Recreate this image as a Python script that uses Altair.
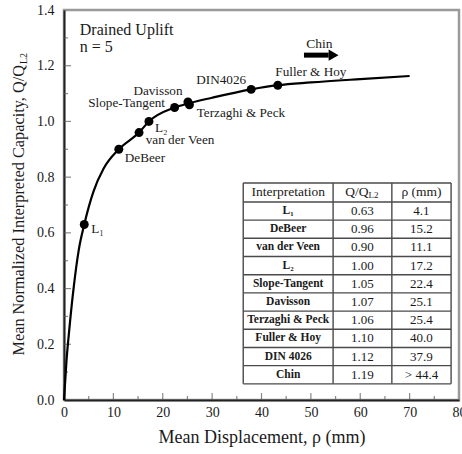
import altair as alt
import pandas as pd

FONT = "Liberation Serif"
INK = "#1a1a1a"

# ---- data ----
curve_x = [0, 0.5, 1, 2, 3, 4.1, 6, 8, 11.1, 15.2, 17.2, 22.4, 25.3, 30, 37.9, 43.3, 50, 60, 70]
curve_y = [0, 0.14, 0.24, 0.41, 0.54, 0.63, 0.75, 0.83, 0.90, 0.96, 1.00, 1.05, 1.065, 1.085, 1.115, 1.13, 1.14, 1.152, 1.163]

pt_names = ["L₁", "DeBeer", "van der Veen", "L₂", "Slope-Tangent", "Davisson",
            "Terzaghi & Peck", "DIN4026", "Fuller & Hoy"]
pt_x = [4.1, 11.1, 15.2, 17.2, 22.4, 25.1, 25.4, 37.9, 43.3]
pt_y = [0.63, 0.90, 0.96, 1.00, 1.05, 1.07, 1.06, 1.115, 1.13]

tbl_names = ["L₁", "DeBeer", "van der Veen", "L₂", "Slope-Tangent", "Davisson",
             "Terzaghi & Peck", "Fuller & Hoy", "DIN 4026", "Chin"]
tbl_q = ["0.63", "0.96", "0.90", "1.00", "1.05", "1.07", "1.06", "1.10", "1.12", "1.19"]
tbl_rho = ["4.1", "15.2", "11.1", "17.2", "22.4", "25.1", "25.4", "40.0", "37.9", "> 44.4"]

x_ticks_major = [10, 20, 30, 40, 50, 60, 70]
x_ticks_minor = [5, 15, 25, 35, 45, 55, 65, 75]
y_ticks_major = [0.2, 0.4, 0.6, 0.8, 1.0, 1.2]
y_ticks_minor = [0.1, 0.3, 0.5, 0.7, 0.9, 1.1, 1.3]

# ---- layout (styling / placement only) ----
W, H = 395, 390
label_style = {  # align, dx, dy in pixels relative to the point
    "L₁": ("left", 7, 4.5),
    "DeBeer": ("left", 6, 9),
    "van der Veen": ("left", 6.7, 7.4),
    "L₂": ("left", 6, 6.6),
    "Slope-Tangent": ("right", -9.6, -4.2),
    "Davisson": ("center", -30, -11.2),
    "Terzaghi & Peck": ("left", 7.3, 8),
    "DIN4026": ("right", -5, -9.4),
    "Fuller & Hoy": ("left", -2.5, -13.5),
}
TBL_COLS = [36.3, 54.5, 66.4, 78.4]   # column edges, in x data units
TBL_TOP, HDR_H, ROW_H = 0.779, 0.068, 0.0653  # in y data units

xscale = alt.Scale(domain=[0, 80], nice=False, zero=False)
yscale = alt.Scale(domain=[0, 1.4], nice=False, zero=False)
xaxis = alt.Axis(values=list(range(0, 81, 10)), format="d", title="Mean Displacement, ρ (mm)",
                 ticks=False, tickSize=0, labelPadding=5, titlePadding=9, labelFlush=False,
                 labelOverlap=False, grid=False)
yaxis = alt.Axis(values=[0, 0.2, 0.4, 0.6, 0.8, 1.0, 1.2, 1.4], format=".1f", title=None,
                 ticks=False, tickSize=0, labelPadding=10, labelFlush=False,
                 labelOverlap=False, grid=False)


def X(f):
    return alt.X(f, type="quantitative", scale=xscale, axis=xaxis)


def Y(f):
    return alt.Y(f, type="quantitative", scale=yscale, axis=yaxis)


curve_df = pd.DataFrame({"x": curve_x, "y": curve_y})
pts_df = pd.DataFrame({"name": pt_names, "x": pt_x, "y": pt_y})

curve = alt.Chart(curve_df).mark_line(color="black", strokeWidth=2.2, interpolate="monotone").encode(
    x=X("x"), y=Y("y"))
points = alt.Chart(pts_df).mark_circle(color="black", size=80, opacity=1).encode(x=X("x"), y=Y("y"))

labels = []
for n in pt_names:
    a, dx, dy = label_style[n]
    labels.append(
        alt.Chart(pts_df[pts_df["name"] == n]).mark_text(
            align=a, baseline="middle", dx=dx, dy=dy, font=FONT, fontSize=13.2, color=INK
        ).encode(x=X("x"), y=Y("y"), text="name:N"))

# inward ticks
xt_major = alt.Chart(pd.DataFrame({"v": x_ticks_major})).mark_tick(
    orient="vertical", size=7, thickness=1.2, color="#555").encode(x=X("v"), y=alt.value(H - 3.5))
xt_minor = alt.Chart(pd.DataFrame({"v": x_ticks_minor})).mark_tick(
    orient="vertical", size=4, thickness=1.2, color="#555").encode(x=X("v"), y=alt.value(H - 2))
yt_major = alt.Chart(pd.DataFrame({"v": y_ticks_major})).mark_tick(
    orient="horizontal", size=7, thickness=1.2, color="#555").encode(y=Y("v"), x=alt.value(3.5))
yt_minor = alt.Chart(pd.DataFrame({"v": y_ticks_minor})).mark_tick(
    orient="horizontal", size=4, thickness=1.2, color="#555").encode(y=Y("v"), x=alt.value(2))

# annotations
notes_df = pd.DataFrame({"t": ["Drained Uplift", "n = 5"], "x": [3.2, 3.2], "y": [1.310, 1.250]})
notes = alt.Chart(notes_df).mark_text(align="left", baseline="alphabetic", font=FONT,
                                      fontSize=16, color=INK).encode(x=X("x"), y=Y("y"), text="t:N")
chin_df = pd.DataFrame({"t": ["Chin"], "x": [51.7], "y": [1.278]})
chin = alt.Chart(chin_df).mark_text(align="center", baseline="middle", font=FONT, fontSize=13.5,
                                    color=INK).encode(x=X("x"), y=Y("y"), text="t:N")
arrow_df = pd.DataFrame({"x": [48.6], "x2": [53.6], "y": [1.238]})
shaft = alt.Chart(arrow_df).mark_rule(color="black", strokeWidth=5).encode(
    x=X("x"), x2="x2", y=Y("y"))
head_df = pd.DataFrame({"x": [54.6], "y": [1.238]})
head = alt.Chart(head_df).mark_point(shape="triangle-right", filled=True, color="black",
                                     size=130, opacity=1).encode(x=X("x"), y=Y("y"))

# table
bounds = [TBL_TOP, TBL_TOP - HDR_H] + [TBL_TOP - HDR_H - ROW_H * (i + 1) for i in range(len(tbl_names))]
hl_df = pd.DataFrame({"y": bounds, "x": TBL_COLS[0], "x2": TBL_COLS[-1]})
vl_df = pd.DataFrame({"x": TBL_COLS, "y": bounds[-1], "y2": bounds[0]})
tbl_bg = alt.Chart(pd.DataFrame({"x": [TBL_COLS[0]], "x2": [TBL_COLS[-1]], "y": [bounds[-1]], "y2": [bounds[0]]})
                   ).mark_rect(color="white").encode(x=X("x"), x2="x2", y=Y("y"), y2="y2")
hlines = alt.Chart(hl_df).mark_rule(color="#4a4a4a", strokeWidth=1.4).encode(x=X("x"), x2="x2", y=Y("y"))
vlines = alt.Chart(vl_df).mark_rule(color="#4a4a4a", strokeWidth=1.4).encode(x=X("x"), y=Y("y"), y2="y2")

centers = [(TBL_COLS[i] + TBL_COLS[i + 1]) / 2 for i in range(3)]
row_y = [TBL_TOP - HDR_H - ROW_H * (i + 0.5) for i in range(len(tbl_names))]
hdr_y = TBL_TOP - HDR_H / 2
cells_df = pd.DataFrame({"name": tbl_names, "q": tbl_q, "rho": tbl_rho, "y": row_y,
                         "c0": centers[0], "c1": centers[1], "c2": centers[2]})
c_names = alt.Chart(cells_df).mark_text(font=FONT, fontSize=11.5, fontWeight="bold", color=INK,
                                        baseline="middle").encode(x=X("c0"), y=Y("y"), text="name:N")
c_q = alt.Chart(cells_df).mark_text(font=FONT, fontSize=13, color=INK, baseline="middle").encode(
    x=X("c1"), y=Y("y"), text="q:N")
c_rho = alt.Chart(cells_df).mark_text(font=FONT, fontSize=13, color=INK, baseline="middle").encode(
    x=X("c2"), y=Y("y"), text="rho:N")
hdr_df = pd.DataFrame({"t": ["Interpretation", "ρ (mm)"], "x": [centers[0], centers[2]], "y": hdr_y})
hdr = alt.Chart(hdr_df).mark_text(font=FONT, fontSize=13.5, color=INK, baseline="middle").encode(
    x=X("x"), y=Y("y"), text="t:N")
hq_df = pd.DataFrame({"t": ["Q/Q"], "s": ["L2"], "x": [centers[1]], "y": [hdr_y]})
hq = alt.Chart(hq_df).mark_text(font=FONT, fontSize=13.5, color=INK, baseline="middle", align="right",
                                dx=6).encode(x=X("x"), y=Y("y"), text="t:N")
hq_sub = alt.Chart(hq_df).mark_text(font=FONT, fontSize=9, color=INK, baseline="middle", align="left",
                                    dx=6, dy=3).encode(x=X("x"), y=Y("y"), text="s:N")

# y axis title with subscript
yt_df = pd.DataFrame({"t": ["Mean Normalized Interpreted Capacity, Q/Q"], "s": ["L2"]})
ytitle = alt.Chart(yt_df).mark_text(font=FONT, fontSize=16.3, color=INK, angle=270, align="right",
                                    baseline="middle").encode(x=alt.value(-45), y=alt.value(55), text="t:N")
ytitle_sub = alt.Chart(yt_df).mark_text(font=FONT, fontSize=10, color=INK, angle=270, align="left",
                                        baseline="middle").encode(x=alt.value(-40.5), y=alt.value(54), text="s:N")

chart = alt.layer(
    xt_major, xt_minor, yt_major, yt_minor,
    curve, points, *labels, notes, chin, shaft, head,
    tbl_bg, hlines, vlines, c_names, c_q, c_rho, hdr, hq, hq_sub,
    ytitle, ytitle_sub,
).properties(
    width=W, height=H,
    autosize=alt.AutoSizeParams(type="none"),
    padding={"left": 64, "top": 10, "right": 3, "bottom": 54},
    background="white",
).configure_view(
    stroke="#9a9a9a", strokeWidth=2.5
).configure_axis(
    labelFont=FONT, labelFontSize=14, labelColor=INK,
    titleFont=FONT, titleFontSize=18, titleFontWeight="normal", titleColor=INK,
    domainColor="#222", domainWidth=2,
)

chart.save("out.html", embed_options={"renderer": "svg", "actions": False})
